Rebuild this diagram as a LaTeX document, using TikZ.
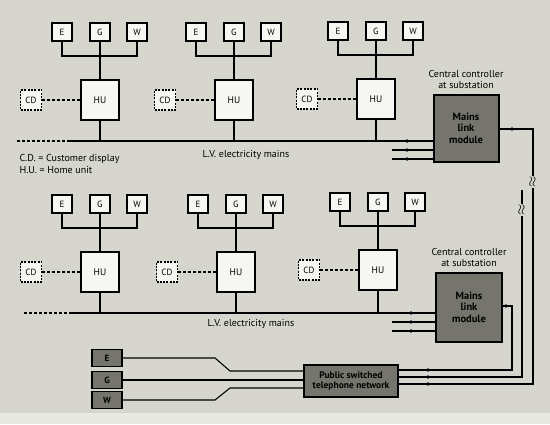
\documentclass[tikz,border=0pt]{standalone}
\usepackage{fontspec}
\setmainfont{PT Sans}
\usetikzlibrary{calc}

\definecolor{paper}{HTML}{D6D6CE}
\definecolor{paperlight}{HTML}{E9E9E3}
\definecolor{moduleGrey}{HTML}{75756D}
\definecolor{boxWhite}{HTML}{F6F6F2}

\begin{document}
\begin{tikzpicture}[x=1pt, y=-1pt,
  wire/.style={line width=1.1pt},
  link/.style={line width=1.1pt, dash pattern=on 3pt off 2pt},
  meter/.style={draw, line width=1.6pt, fill=boxWhite, minimum width=20pt,
    minimum height=18pt, inner sep=0pt, font=\fontsize{9}{10}\selectfont},
  meterdark/.style={meter, fill=moduleGrey, minimum width=30pt, minimum height=17pt,
    font=\bfseries\fontsize{9}{10}\selectfont},
  unit/.style={draw, line width=2pt, fill=boxWhite, minimum width=38pt,
    minimum height=40pt, inner sep=0pt, font=\fontsize{9.5}{10}\selectfont},
  display/.style={draw, line width=1.2pt, dash pattern=on 2pt off 1.3pt,
    fill=boxWhite, minimum width=21pt, minimum height=20pt, inner sep=0pt,
    font=\fontsize{9}{10}\selectfont},
  module/.style={draw, line width=2pt, fill=moduleGrey, align=center, inner sep=1pt,
    font=\bfseries\fontsize{10.5}{11.5}\selectfont},
  label/.style={font=\fontsize{10}{11.5}\selectfont, align=center},
  brk/.style={rotate=90, fill=paper, inner sep=0pt, font=\Large}
]

% Fondo
\fill[paper] (0,0) rectangle (550,413);
\fill[paperlight] (0,413) rectangle (550,424);
\useasboundingbox (0,0) rectangle (550,424);

% Red de baja tension
\coordinate (lv1a) at (17,141);
\coordinate (lv1b) at (70,141);
\coordinate (lv2a) at (24,313);
\coordinate (lv2b) at (72,313);

% Modulos de enlace
\node[module, minimum width=65pt, minimum height=67pt] (mlm1) at (466,128)
  {Mains\\link\\module};
\node[module, minimum width=66pt, minimum height=69pt] (mlm2) at (469,307)
  {Mains\\link\\module};
\node[label, above=1pt] (cc1) at (mlm1.north) {Central controller\\at substation};
\node[label, above=1pt] (cc2) at (mlm2.north) {Central controller\\at substation};

% Viviendas
\foreach \n/\cx/\cy/\lv in {1/100/100/lv1b, 2/234/100/lv1b, 3/376/99/lv1b,
                            4/100/272/lv2b, 5/236/272/lv2b, 6/378/270/lv2b} {
  \node[unit] (hu\n) at (\cx,\cy) {HU};
  \node[meter] (e\n) at (\cx-38,\cy-68) {E};
  \node[meter] (g\n) at (\cx,\cy-68) {G};
  \node[meter] (w\n) at (\cx+37,\cy-68) {W};
  \coordinate (bus\n) at (\cx,\cy-44);
  \draw[wire] (e\n.south) |- (bus\n) -| (w\n.south);
  \draw[wire] (g\n.south) -- (hu\n.north);
  \node[display] (cd\n) at (\cx-69,\cy) {CD};
  \draw[link] (cd\n) -- (hu\n);
  \draw[wire] (hu\n.south) -- (hu\n.south |- \lv);
}

\draw[link] (lv1a) -- (lv1b);
\draw[link] (lv2a) -- (lv2b);

% Entradas a los modulos
\coordinate (d11) at (407,141);
\coordinate (d12) at (407,150);
\coordinate (d13) at (407,159);
\coordinate (s12) at (392,150);
\coordinate (s13) at (392,159);
\draw[wire] (lv1b) -- (mlm1.west |- d11);
\draw[wire] (s12) -- (mlm1.west |- d12);
\draw[wire] (s13) -- (mlm1.west |- d13);

\coordinate (d21) at (411,313);
\coordinate (d22) at (411,322);
\coordinate (d23) at (411,331);
\coordinate (s22) at (392,322);
\coordinate (s23) at (392,331);
\draw[wire] (lv2b) -- (mlm2.west |- d21);
\draw[wire] (s22) -- (mlm2.west |- d22);
\draw[wire] (s23) -- (mlm2.west |- d23);

\node[label] (lvtxt1) at (246,155) {L.V. electricity mains};
\node[label] (lvtxt2) at (251,324) {L.V. electricity mains};
\node[label, align=left, anchor=west] (key) at (16,164)
  {C.D. = Customer display\\H.U. = Home unit};

% Red telefonica
\node[module, minimum width=94pt, minimum height=32pt,
  font=\bfseries\fontsize{9.5}{10.5}\selectfont] (pstn) at (351,381)
  {Public switched\\telephone network};

\coordinate (p1) at (428,370);
\coordinate (p2) at (428,377);
\coordinate (p3) at (428,384);

\coordinate (o1) at (512,129);
\coordinate (r1) at (533,129);
\draw[wire] (mlm1.east |- o1) -- (r1) -- (r1 |- p3) -- (pstn.east |- p3);

\coordinate (r2) at (522,190);
\draw[wire] (r2) -- (r2 |- p2) -- (pstn.east |- p2);

\coordinate (o2) at (506,306);
\coordinate (r3) at (512,306);
\draw[wire] (mlm2.east |- o2) -- (r3) -- (r3 |- p1) -- (pstn.east |- p1);

% Puntos de conexion
\foreach \d in {d11,d12,d13,d21,d22,d23,p1,p2,p3,o1,o2}
  \fill (\d) circle (1.9pt);

\node[brk] (b1) at (533,182) {$\approx$};
\node[brk] (b2) at (522,210) {$\approx$};

% Contadores remotos
\node[meterdark] (te) at (107,358) {E};
\node[meterdark] (tg) at (107,380) {G};
\node[meterdark] (tw) at (107,400) {W};
\coordinate (ein) at (230,371);
\coordinate (win) at (230,388);
\draw[wire] (te.east) -- (215,358) -- (ein) -- (pstn.west |- ein);
\draw[wire] (tg.east) -- (pstn.west |- tg);
\draw[wire] (tw.east) -- (215,400) -- (win) -- (pstn.west |- win);

\end{tikzpicture}
\end{document}
